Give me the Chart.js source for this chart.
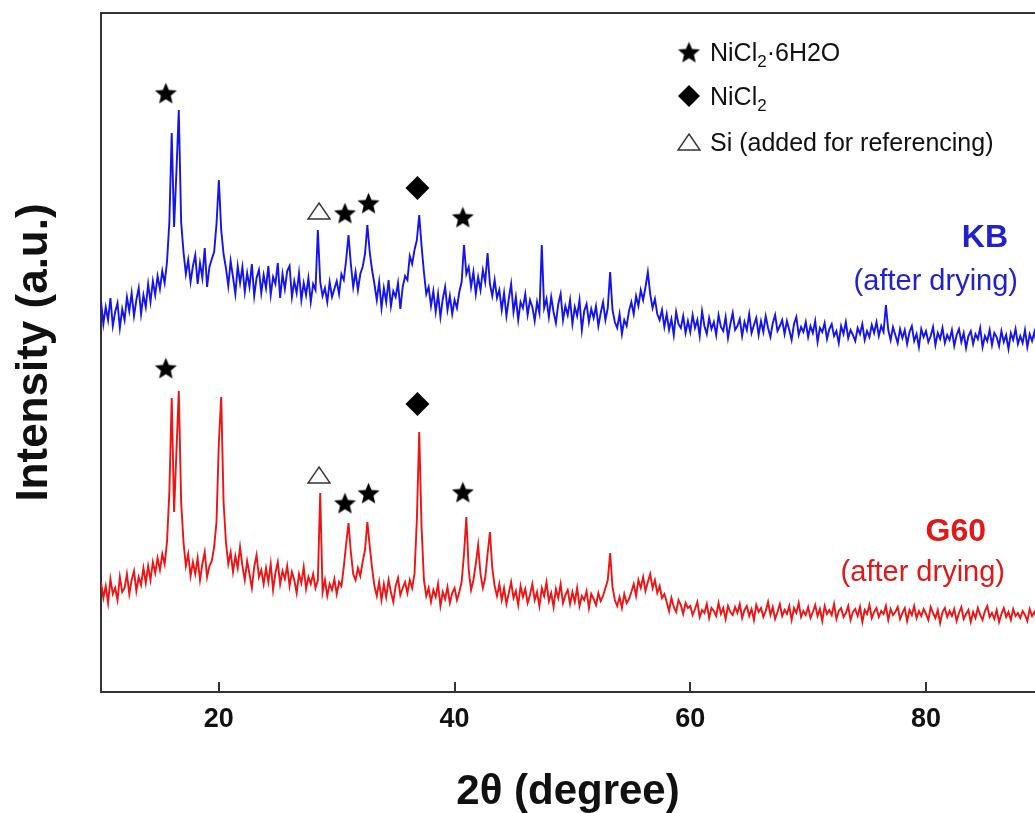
<!DOCTYPE html>
<html>
<head>
<meta charset="utf-8">
<script src="https://cdn.jsdelivr.net/npm/chart.js@4.4.1/dist/chart.umd.min.js"></script>
<style>
    html, body { margin: 0; padding: 0; background: #fff; overflow: hidden; }
    #wrap { width: 1035px; height: 813px; }
    canvas { display: block; }
</style>
</head>
<body>
<div id="wrap"><canvas id="xrd-chart" width="1035" height="813"></canvas></div>
<script>
// scan grid (2-theta, degrees)
const twoThetaStart = 10;
const twoThetaStep = 0.2;
const twoThetaMin = 10;
const twoThetaMax = 89.25;
const tickValues = [20, 40, 60, 80];

// KB (after drying), counts, offset trace
const kbCounts = [
    391, 368, 385, 372, 394, 366, 380, 389, 364, 383,
    372, 395, 381, 399, 376, 392, 404, 378, 397, 385,
    408, 390, 411, 397, 416, 403, 421, 409, 430, 470,
    559, 465, 520, 582, 470, 440, 418, 432, 410, 426,
    437, 408, 429, 414, 444, 405, 425, 433, 440, 468,
    512, 462, 438, 424, 406, 431, 415, 398, 426, 409,
    425, 400, 419, 405, 428, 396, 414, 422, 399, 417,
    404, 426, 397, 415, 408, 429, 394, 418, 403, 421,
    426, 395, 411, 399, 419, 392, 409, 397, 414, 390,
    408, 402, 462, 410, 396, 404, 390, 410, 395, 403,
    411, 398, 418, 412, 432, 457, 428, 405, 420, 402,
    418, 425, 438, 467, 440, 422, 408, 392, 410, 384,
    404, 390, 412, 386, 401, 395, 409, 383, 405, 416,
    412, 436, 428, 442, 452, 477, 446, 420, 398, 405,
    386, 401, 380, 398, 375, 393, 405, 382, 396, 378,
    392, 384, 400, 410, 447, 418, 425, 405, 420, 398,
    415, 402, 422, 410, 439, 408, 396, 412, 394, 402,
    382, 399, 376, 393, 408, 380, 395, 372, 390, 384,
    398, 377, 392, 385, 371, 390, 379, 447, 384, 393,
    375, 395, 380, 369, 388, 398, 372, 386, 377, 392,
    368, 385, 376, 392, 362, 381, 388, 370, 383, 374,
    386, 366, 379, 390, 372, 384, 420, 382, 370, 364,
    378, 358, 372, 366, 381, 390, 378, 396, 386, 402,
    392, 405, 420, 398, 384, 393, 378, 372, 382, 365,
    378, 362, 373, 357, 380, 368, 364, 376, 359, 371,
    360, 377, 364, 372, 356, 381, 366, 358, 374, 363,
    370, 357, 377, 365, 361, 375, 354, 368, 379, 362,
    366, 373, 356, 370, 362, 378, 359, 367, 374, 357,
    371, 360, 376, 364, 355, 369, 377, 361, 366, 372,
    358, 371, 362, 352, 368, 375, 357, 365, 360, 370,
    355, 366, 359, 371, 350, 364, 360, 369, 353, 363,
    368, 356, 361, 349, 366, 358, 370, 354, 362, 357,
    351, 364, 358, 368, 352, 361, 355, 367, 359, 370,
    356, 366, 360, 387, 362, 352, 365, 357, 349, 363,
    354, 362, 348, 360, 366, 351, 358, 345, 363, 355,
    361, 350, 356, 365, 347, 359, 353, 364, 349, 357,
    352, 362, 346, 357, 363, 350, 359, 344, 356, 361,
    348, 358, 353, 364, 345, 356, 351, 362, 347, 359,
    355, 346, 361, 350, 357, 343, 359, 352, 363, 348,
    356, 349, 362, 345, 358, 351, 360, 347
];

// G60 (after drying)
const g60Counts = [
    110, 94, 106, 89, 113, 98, 104, 92, 115, 100,
    104, 118, 98, 112, 121, 101, 115, 107, 124, 109,
    126, 112, 130, 119, 134, 122, 138, 128, 150, 200,
    294, 180, 240, 301, 190, 150, 126, 138, 116, 130,
    118, 134, 112, 128, 140, 115, 126, 131, 145, 170,
    250, 295, 190, 150, 128, 140, 120, 136, 124, 145,
    126, 112, 131, 118, 104, 125, 137, 115, 122, 108,
    124, 110, 128, 102, 119, 130, 108, 121, 113, 126,
    106, 120, 112, 99, 118, 109, 125, 103, 115, 108,
    118, 104, 112, 199, 100, 112, 96, 108, 102, 113,
    98, 110, 106, 125, 148, 169, 140, 118, 112, 124,
    116, 130, 142, 170, 146, 124, 106, 96, 110, 92,
    108, 95, 112, 100, 90, 106, 114, 97, 104, 110,
    99, 112, 104, 118, 172, 260, 165, 112, 96, 104,
    90, 102, 95, 108, 86, 100, 93, 105, 89, 99,
    104, 92, 100, 110, 138, 175, 122, 102, 112, 128,
    147, 118, 104, 114, 138, 160, 124, 106, 96, 108,
    92, 104, 88, 99, 110, 94, 101, 87, 106, 95,
    103, 89, 97, 108, 92, 100, 86, 104, 96, 110,
    91, 99, 85, 103, 94, 108, 89, 97, 102, 88,
    100, 90, 104, 86, 96, 92, 101, 84, 98, 93,
    87, 99, 91, 96, 104, 112, 139, 105, 92, 86,
    95, 84, 98, 89, 93, 100, 108, 96, 112, 104,
    115, 101, 110, 118, 104, 112, 99, 106, 94, 98,
    90, 81, 94, 85, 80, 92, 87, 78, 89, 84,
    86, 77, 83, 90, 75, 82, 79, 88, 74, 84,
    81, 76, 89, 78, 84, 73, 86, 80, 77, 85,
    79, 88, 74, 82, 86, 76, 83, 72, 87, 80,
    84, 75, 81, 90, 77, 85, 73, 80, 88, 76,
    82, 78, 86, 72, 84, 79, 89, 75, 81, 77,
    85, 74, 80, 87, 76, 83, 71, 86, 78, 82,
    77, 88, 73, 81, 84, 75, 79, 86, 72, 80,
    83, 76, 85, 70, 82, 78, 87, 74, 80, 84,
    75, 81, 78, 86, 72, 83, 77, 80, 85, 73,
    79, 84, 71, 82, 77, 86, 74, 81, 76, 83,
    78, 72, 85, 79, 74, 82, 69, 80, 84, 75,
    81, 76, 83, 71, 79, 85, 73, 78, 82, 70,
    80, 74, 84, 77, 72, 81, 86, 75, 79, 73,
    82, 70, 78, 84, 75, 80, 72, 83, 76, 79,
    74, 81, 77, 71, 83, 76, 80, 73
];

// phase markers above the peaks
const starX = [15.5, 30.7, 32.7, 40.7];
const kbStarY = [599, 479, 489, 475];
const g60StarY = [324, 189, 199, 200];
const diamondX = [36.85];
const kbDiamondY = [504];
const g60DiamondY = [288];
const triangleX = [28.5];
const kbTriangleY = [481];
const g60TriangleY = [217];

const seriesNames = ['KB', 'G60'];
const legendRows = ['NiCl2·6H2O', 'NiCl2', 'Si (added for referencing)'];

const FONT = '"Liberation Sans", Arial, Helvetica, sans-serif';
const BLUE = '#1414ee';
const RED = '#ee1414';
const AXIS = '#333333';

const XRD_Chart = {
    init: function() {
        this.starImg = this.makeStar(11.5);
        this.triImg = this.makeTriangle(22, 16);
        this.buildChart();
    },

    makeStar: function(r) {
        const c = document.createElement('canvas');
        c.width = Math.ceil(r * 2 + 2);
        c.height = Math.ceil(r * 2 + 2);
        const g = c.getContext('2d');
        const cx = c.width / 2, cy = c.height / 2 + r * 0.1;
        g.beginPath();
        for (let i = 0; i < 10; i++) {
            const rad = i % 2 === 0 ? r : r * 0.45;
            const a = -Math.PI / 2 + i * Math.PI / 5;
            const px = cx + Math.cos(a) * rad, py = cy + Math.sin(a) * rad;
            if (i === 0) g.moveTo(px, py); else g.lineTo(px, py);
        }
        g.closePath();
        g.fillStyle = '#000';
        g.fill();
        return c;
    },

    makeTriangle: function(w, h) {
        const c = document.createElement('canvas');
        c.width = w + 2;
        c.height = h + 2;
        const g = c.getContext('2d');
        g.beginPath();
        g.moveTo(c.width / 2, 1);
        g.lineTo(w + 1, h + 1);
        g.lineTo(1, h + 1);
        g.closePath();
        g.fillStyle = '#fff';
        g.fill();
        g.strokeStyle = '#333';
        g.lineWidth = 1.4;
        g.stroke();
        return c;
    },

    toPoints: function(xs, ys) {
        return xs.map((x, i) => ({ x: x, y: ys[i] }));
    },

    scanPoints: function(counts) {
        return counts.map((v, i) => ({ x: twoThetaStart + i * twoThetaStep, y: v }));
    },

    markerSet: function(xs, ys, style, radius) {
        return {
            data: this.toPoints(xs, ys),
            showLine: false,
            pointStyle: style,
            pointRadius: radius,
            pointBackgroundColor: '#000',
            pointBorderColor: '#000',
            pointBorderWidth: 0,
            order: 0
        };
    },

    lineSet: function(label, counts, color) {
        return {
            label: label,
            data: this.scanPoints(counts),
            showLine: true,
            borderColor: color,
            borderWidth: 1.9,
            pointRadius: 0,
            tension: 0,
            order: 1
        };
    },

    drawRich: function(ctx, text, x, y, size) {
        // "NiCl2" style text: the 2 right after Cl goes to subscript
        const parts = [];
        const idx = text.indexOf('Cl2');
        if (idx >= 0) {
            parts.push({ t: text.slice(0, idx + 2) });
            parts.push({ t: '2', sub: true });
            parts.push({ t: text.slice(idx + 3) });
        } else {
            parts.push({ t: text });
        }
        let cx = x;
        parts.forEach(p => {
            const s = p.sub ? Math.round(size * 0.68) : size;
            ctx.font = s + 'px ' + FONT;
            ctx.fillText(p.t, cx, p.sub ? y + size * 0.22 : y);
            cx += ctx.measureText(p.t).width;
        });
    },

    overlayPlugin: function() {
        const self = this;
        return {
            id: 'xrdOverlay',
            afterDraw: function(chart) {
                const ctx = chart.ctx;
                const area = chart.chartArea;
                const xs = chart.scales.x;
                ctx.save();

                // frame top and inward ticks
                ctx.strokeStyle = AXIS;
                ctx.lineWidth = 2;
                ctx.beginPath();
                ctx.moveTo(area.left - 1, area.top);
                ctx.lineTo(area.right, area.top);
                tickValues.forEach(v => {
                    const px = Math.round(xs.getPixelForValue(v));
                    ctx.moveTo(px, area.bottom);
                    ctx.lineTo(px, area.bottom - 10);
                });
                ctx.stroke();

                // phase legend
                ctx.textAlign = 'left';
                ctx.textBaseline = 'alphabetic';
                const lx = area.left + 588;
                const rowsY = [area.top + 48, area.top + 92, area.top + 138];
                ctx.drawImage(self.starImg, lx - self.starImg.width / 2, rowsY[0] - 9 - self.starImg.height / 2);
                ctx.fillStyle = '#000';
                ctx.beginPath();
                ctx.moveTo(lx - 11, rowsY[1] - 9);
                ctx.lineTo(lx, rowsY[1] - 20);
                ctx.lineTo(lx + 11, rowsY[1] - 9);
                ctx.lineTo(lx, rowsY[1] + 2);
                ctx.closePath();
                ctx.fill();
                ctx.drawImage(self.triImg, lx - self.triImg.width / 2, rowsY[2] - 9 - self.triImg.height / 2);
                ctx.fillStyle = '#111';
                legendRows.forEach((t, i) => self.drawRich(ctx, t, lx + 21, rowsY[i], 25));

                // sample labels
                ctx.textAlign = 'right';
                ctx.fillStyle = '#2222cc';
                ctx.font = 'bold 32px ' + FONT;
                ctx.fillText(seriesNames[0], 1008, 247);
                ctx.font = '29px ' + FONT;
                ctx.fillText('(after drying)', 1018, 290);
                ctx.fillStyle = '#e01818';
                ctx.font = 'bold 32px ' + FONT;
                ctx.fillText(seriesNames[1], 986, 541);
                ctx.font = '29px ' + FONT;
                ctx.fillText('(after drying)', 1005, 581);
                ctx.restore();
            }
        };
    },

    buildChart: function() {
        const ctx = document.getElementById('xrd-chart').getContext('2d');
        this.chart = new Chart(ctx, {
            type: 'scatter',
            data: {
                datasets: [
                    this.markerSet(starX, kbStarY, this.starImg, 10),
                    this.markerSet(starX, g60StarY, this.starImg, 10),
                    this.markerSet(diamondX, kbDiamondY, 'rectRot', 12),
                    this.markerSet(diamondX, g60DiamondY, 'rectRot', 12),
                    this.markerSet(triangleX, kbTriangleY, this.triImg, 10),
                    this.markerSet(triangleX, g60TriangleY, this.triImg, 10),
                    this.lineSet(seriesNames[0], kbCounts, BLUE),
                    this.lineSet(seriesNames[1], g60Counts, RED)
                ]
            },
            options: {
                responsive: false,
                animation: false,
                events: [],
                devicePixelRatio: 1,
                layout: { autoPadding: false, padding: { top: 13, right: 0, left: 0, bottom: 0 } },
                plugins: {
                    legend: { display: false },
                    tooltip: { enabled: false }
                },
                scales: {
                    x: {
                        type: 'linear',
                        min: twoThetaMin,
                        max: twoThetaMax,
                        afterBuildTicks: function(scale) {
                            scale.ticks = tickValues.map(v => ({ value: v }));
                        },
                        afterFit: function(scale) { scale.height = 121; },
                        grid: { display: false, drawTicks: false },
                        border: { display: true, color: AXIS, width: 2 },
                        ticks: {
                            color: '#111',
                            padding: 11,
                            font: { family: FONT, size: 27, weight: 'bold' }
                        },
                        title: {
                            display: true,
                            text: '2θ (degree)',
                            color: '#111',
                            padding: { top: 0, bottom: 0 },
                            font: { family: FONT, size: 42, weight: 'bold', lineHeight: 1 }
                        }
                    },
                    y: {
                        type: 'linear',
                        min: 0,
                        max: 679,
                        afterFit: function(scale) { scale.width = 101; },
                        grid: { display: false, drawTicks: false },
                        border: { display: true, color: AXIS, width: 2 },
                        ticks: { display: false },
                        title: {
                            display: true,
                            text: 'Intensity (a.u.)',
                            color: '#111',
                            padding: { top: 13, bottom: 0 },
                            font: { family: FONT, size: 44, weight: 'bold', lineHeight: 1 }
                        }
                    }
                }
            },
            plugins: [this.overlayPlugin()]
        });
    }
};

XRD_Chart.init();
</script>
</body>
</html>
